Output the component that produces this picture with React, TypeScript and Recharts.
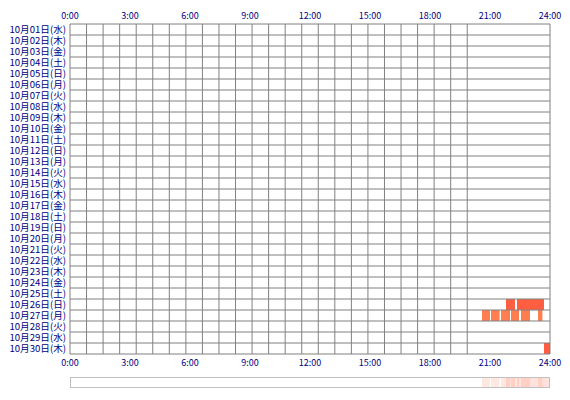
import { BarChart, Bar, XAxis, YAxis, Cell, CartesianGrid, ComposedChart } from "recharts";

const dayLabels = [
  "10月01日(水)", "10月02日(木)", "10月03日(金)", "10月04日(土)", "10月05日(日)",
  "10月06日(月)", "10月07日(火)", "10月08日(水)", "10月09日(木)", "10月10日(金)",
  "10月11日(土)", "10月12日(日)", "10月13日(月)", "10月14日(火)", "10月15日(水)",
  "10月16日(木)", "10月17日(金)", "10月18日(土)", "10月19日(日)", "10月20日(月)",
  "10月21日(火)", "10月22日(水)", "10月23日(木)", "10月24日(金)", "10月25日(土)",
  "10月26日(日)", "10月27日(月)", "10月28日(火)", "10月29日(水)", "10月30日(木)",
];
const hourTicks = [0, 3, 6, 9, 12, 15, 18, 21, 24];

// recorded periods (hours of the day) for the days that have any
const activeDays = ["10月26日(日)", "10月27日(月)", "10月30日(木)"];
const segStarts = [
  [21.8, 22.35],
  [20.6, 21.05, 21.55, 22.05, 22.55, 23.4],
  [23.7],
];
const segEnds = [
  [22.25, 23.7],
  [21.0, 21.48, 22.0, 22.45, 23.0, 23.62],
  [24],
];
const dayColors = ["#ff5e40", "#ff7e50", "#ff5e40"];

const NAVY = "#000080";
const GRID = "#808080";
const FONT = "'Noto Sans CJK JP', sans-serif";

const gridHours = Array.from({ length: 25 }, (_, i) => i);
const gridRows = Array.from({ length: dayLabels.length + 1 }, (_, i) => i);

const maxSegs = Math.max(...segStarts.map((s) => s.length));
const segKeys = Array.from({ length: maxSegs }, (_, i) => `seg${i}`);

const rows = dayLabels.map((day) => {
  const row: Record<string, any> = { day };
  const k = activeDays.indexOf(day);
  segKeys.forEach((key, i) => {
    row[key] = k >= 0 && i < segStarts[k].length ? [segStarts[k][i], segEnds[k][i]] : null;
  });
  return row;
});

const colorOf = (day: string) => {
  const k = activeDays.indexOf(day);
  return k >= 0 ? dayColors[k] : "none";
};

// summary strip: every period laid on one row
const stripSegs = activeDays.flatMap((_, k) =>
  segStarts[k].map((s, i) => ({ range: [s, segEnds[k][i]], color: dayColors[k] }))
);
const stripKeys = stripSegs.map((_, i) => `s${i}`);
const stripData = [
  Object.fromEntries([["name", "all"], ...stripSegs.map((s, i) => [stripKeys[i], s.range])]),
];

const tickStyle = { fill: NAVY, fontSize: 9, fontFamily: FONT };

export default function App() {
  return (
    <div style={{ position: "absolute", left: 0, top: 0, width: 570, height: 400, background: "#fff" }}>
      <BarChart
        width={570}
        height={400}
        data={rows}
        layout="vertical"
        margin={{ top: 0, right: 20, bottom: 26, left: 4 }}
        barCategoryGap={0}
        barGap={-10.99}
      >
        <XAxis
          xAxisId="top"
          orientation="top"
          type="number"
          domain={[0, 24]}
          ticks={hourTicks}
          interval={0}
          height={24}
          tickSize={3}
          tickMargin={2}
          axisLine={false}
          tickLine={false}
          tick={tickStyle}
          tickFormatter={(h) => `${h}:00`}
          allowDataOverflow
        />
        <XAxis
          xAxisId="bottom"
          orientation="bottom"
          type="number"
          domain={[0, 24]}
          ticks={hourTicks}
          interval={0}
          height={20}
          tickSize={4}
          tickMargin={2}
          axisLine={false}
          tickLine={false}
          tick={tickStyle}
          tickFormatter={(h) => `${h}:00`}
          allowDataOverflow
        />
        <YAxis
          type="category"
          dataKey="day"
          width={66}
          interval={0}
          tickSize={2}
          tickMargin={2}
          axisLine={false}
          tickLine={false}
          tick={{ fill: NAVY, fontSize: 9.6, fontFamily: FONT }}
        />
        {segKeys.map((key) => (
          <Bar key={key} dataKey={key} xAxisId="top" barSize={10.99} isAnimationActive={false}>
            {rows.map((r) => (
              <Cell key={r.day} fill={colorOf(r.day)} />
            ))}
          </Bar>
        ))}
      </BarChart>

      {/* grid drawn over the bars */}
      <div style={{ position: "absolute", left: 0, top: 0 }}>
        <ComposedChart width={570} height={400} data={rows} margin={{ top: 24, right: 20, bottom: 46, left: 70 }}>
          <CartesianGrid stroke={GRID} strokeWidth={1} fill="none" />
          <XAxis type="number" domain={[0, 24]} ticks={gridHours} interval={0} hide allowDataOverflow />
          <YAxis type="number" domain={[0, dayLabels.length]} ticks={gridRows} interval={0} hide allowDataOverflow />
        </ComposedChart>
      </div>

      <div style={{ position: "absolute", left: 70, top: 377 }}>
        <BarChart
          width={480}
          height={11}
          data={stripData}
          layout="vertical"
          margin={{ top: 0, right: 0, bottom: 0, left: 0 }}
          barCategoryGap={0}
          barGap={-10.99}
        >
          <XAxis type="number" domain={[0, 24]} hide allowDataOverflow />
          <YAxis type="category" dataKey="name" hide />
          {stripKeys.map((key, i) => (
            <Bar
              key={key}
              dataKey={key}
              barSize={10.99}
              fill={stripSegs[i].color}
              fillOpacity={0.18}
              isAnimationActive={false}
            />
          ))}
        </BarChart>
      </div>
      <div
        style={{
          position: "absolute",
          left: 70,
          top: 377,
          width: 478,
          height: 9,
          border: "1px solid #c0c0c0",
        }}
      />
    </div>
  );
}
